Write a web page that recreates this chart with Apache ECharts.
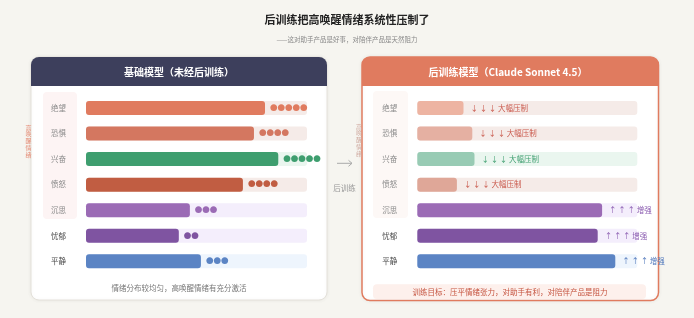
<!DOCTYPE html>
<html>
<head>
<meta charset="utf-8">
<script src="https://cdn.jsdelivr.net/npm/echarts@6/dist/echarts.min.js"></script>
<style>
  html, body { margin: 0; padding: 0; background: #f6f5f0; }
  #chart { width: 694px; height: 318px; }
</style>
</head>
<body>
<div id="chart"></div>
<script>
// 数据
const emotions = ['绝望', '恐惧', '兴奋', '愤怒', '沉思', '忧郁', '平静']
const baseValues = [81, 76, 87, 71, 47, 42, 52]
const baseDots = [5, 4, 5, 4, 3, 2, 3]
const postValues = [21, 25, 26, 18, 84, 82, 90]
const postNotes = ['↓ ↓ ↓ 大幅压制', '↓ ↓ ↓ 大幅压制', '↓ ↓ ↓ 大幅压制', '↓ ↓ ↓ 大幅压制', '↑ ↑ ↑ 增强', '↑ ↑ ↑ 增强', '↑ ↑ ↑ 增强']
const trackMax = 100

// 样式
const FONT = 'Noto Sans CJK SC'
const baseColors = ['#e07b5f', '#d47760', '#3e9e6f', '#c15d42', '#9b6bb5', '#7f54a1', '#5b84c4']
const postColors = ['#edb4a2', '#e5b0a2', '#98cbb4', '#dfa798', '#9b6bb5', '#7f54a1', '#5b84c4']
const trackColors = ['#f5ebe8', '#f5ebe8', '#eaf6ef', '#f5ebe8', '#f4eefc', '#f4eefc', '#eef5fd']
const noteColors = ['#c9574a', '#c9574a', '#3e9e6f', '#c9574a', '#8a5bb0', '#8a5bb0', '#4f77bb']

const chartDom = document.getElementById('chart')
const myChart = echarts.init(chartDom)

function labelColor (value, index) {
  return index < 5 ? '#8a8a8a' : '#4a4a4a'
}

function yAxisOf (gridIndex) {
  return {
    type: 'category',
    gridIndex: gridIndex,
    data: emotions,
    inverse: true,
    axisLine: { show: false },
    axisTick: { show: false },
    axisLabel: {
      margin: 20,
      fontSize: 7.5,
      fontFamily: FONT,
      color: labelColor
    }
  }
}

function xAxisOf (gridIndex) {
  return {
    type: 'value',
    gridIndex: gridIndex,
    min: 0,
    max: trackMax,
    show: false
  }
}

function trackSeries (idx) {
  return {
    type: 'bar',
    xAxisIndex: idx,
    yAxisIndex: idx,
    barWidth: 14,
    barGap: '-100%',
    silent: true,
    z: 1,
    data: emotions.map((e, i) => ({
      value: trackMax,
      itemStyle: { color: trackColors[i], borderRadius: 3 }
    }))
  }
}

const option = {
  backgroundColor: '#f6f5f0',
  animation: false,
  grid: [
    { left: 86, top: 95.2, width: 221, height: 178.9 },
    { left: 417.3, top: 95.2, width: 220, height: 178.9 }
  ],
  xAxis: [xAxisOf(0), xAxisOf(1)],
  yAxis: [yAxisOf(0), yAxisOf(1)],
  series: [
    trackSeries(0),
    {
      name: '基础模型',
      type: 'bar',
      xAxisIndex: 0,
      yAxisIndex: 0,
      barWidth: 14,
      barGap: '-100%',
      z: 2,
      label: {
        show: true,
        position: 'right',
        distance: 5,
        fontSize: 7.5,
        fontFamily: FONT,
        formatter: (p) => '●'.repeat(baseDots[p.dataIndex])
      },
      data: baseValues.map((v, i) => ({
        value: v,
        itemStyle: { color: baseColors[i], borderRadius: 3 },
        label: { color: baseColors[i] }
      }))
    },
    trackSeries(1),
    {
      name: '后训练模型',
      type: 'bar',
      xAxisIndex: 1,
      yAxisIndex: 1,
      barWidth: 14,
      barGap: '-100%',
      z: 2,
      label: {
        show: true,
        position: 'right',
        distance: 7,
        fontSize: 7.5,
        fontFamily: FONT,
        formatter: (p) => postNotes[p.dataIndex]
      },
      data: postValues.map((v, i) => ({
        value: v,
        itemStyle: { color: postColors[i], borderRadius: 3 },
        label: { color: noteColors[i] }
      }))
    }
  ],
  graphic: [
    // 标题
    {
      type: 'text', x: 347, y: 20, z: 10,
      style: { text: '后训练把高唤醒情绪系统性压制了', align: 'center', verticalAlign: 'middle', fill: '#222', font: 'bold 11px ' + FONT }
    },
    {
      type: 'text', x: 347, y: 40, z: 10,
      style: { text: '——这对助手产品是好事，对陪伴产品是天然阻力', align: 'center', verticalAlign: 'middle', fill: '#888', font: '6.5px ' + FONT }
    },
    // 左面板
    {
      type: 'rect', z: -10,
      shape: { x: 31, y: 57, width: 296, height: 243, r: 8 },
      style: { fill: '#fff', stroke: '#e4e1da', lineWidth: 1, shadowBlur: 4, shadowColor: 'rgba(0,0,0,0.06)' }
    },
    {
      type: 'rect', z: -9,
      shape: { x: 31, y: 57, width: 296, height: 29, r: [8, 8, 0, 0] },
      style: { fill: '#3d3f5c' }
    },
    {
      type: 'text', x: 179, y: 72, z: 10,
      style: { text: '基础模型（未经后训练）', align: 'center', verticalAlign: 'middle', fill: '#fff', font: 'bold 10px ' + FONT }
    },
    {
      type: 'rect', z: -8,
      shape: { x: 43, y: 92, width: 34, height: 127, r: 4 },
      style: { fill: '#fdf4f4' }
    },
    {
      type: 'text', x: 28.5, y: 141, z: 10,
      style: { text: '高\n唤\n醒\n情\n绪', align: 'center', verticalAlign: 'middle', lineHeight: 6.8, fill: '#e48a73', font: '6px ' + FONT }
    },
    {
      type: 'text', x: 179, y: 288.3, z: 10,
      style: { text: '情绪分布较均匀，高唤醒情绪有充分激活', align: 'center', verticalAlign: 'middle', fill: '#777', font: '7.5px ' + FONT }
    },
    // 中间箭头
    {
      type: 'polyline', z: 10,
      shape: { points: [[337, 163.3], [352, 163.3]] },
      style: { stroke: '#aaa', lineWidth: 1, fill: null }
    },
    {
      type: 'polyline', z: 10,
      shape: { points: [[348.5, 160.3], [352, 163.3], [348.5, 166.3]] },
      style: { stroke: '#aaa', lineWidth: 1, fill: null }
    },
    {
      type: 'text', x: 344.5, y: 188, z: 10,
      style: { text: '后训练', align: 'center', verticalAlign: 'middle', fill: '#999', font: '7.5px ' + FONT }
    },
    // 右面板
    {
      type: 'rect', z: -10,
      shape: { x: 362, y: 57, width: 296.5, height: 243.5, r: 8 },
      style: { fill: '#fff', stroke: '#e07b5f', lineWidth: 1.5, shadowBlur: 4, shadowColor: 'rgba(0,0,0,0.06)' }
    },
    {
      type: 'rect', z: -9,
      shape: { x: 362, y: 57, width: 296.5, height: 29, r: [8, 8, 0, 0] },
      style: { fill: '#e07b5f' }
    },
    {
      type: 'text', x: 508, y: 72, z: 10,
      style: { text: '后训练模型（Claude Sonnet 4.5）', align: 'center', verticalAlign: 'middle', fill: '#fff', font: 'bold 10px ' + FONT }
    },
    {
      type: 'rect', z: -8,
      shape: { x: 373, y: 91, width: 35, height: 127, r: 4 },
      style: { fill: '#fdf8f6' }
    },
    {
      type: 'text', x: 359, y: 140, z: 10,
      style: { text: '高\n唤\n醒\n情\n绪', align: 'center', verticalAlign: 'middle', lineHeight: 6.8, fill: '#cfaaa0', font: '6px ' + FONT }
    },
    {
      type: 'rect', z: -8,
      shape: { x: 373, y: 284.3, width: 273, height: 14.7, r: 4 },
      style: { fill: '#fdf0ec' }
    },
    {
      type: 'text', x: 510, y: 292.3, z: 10,
      style: { text: '训练目标：压平情绪张力，对助手有利，对陪伴产品是阻力', align: 'center', verticalAlign: 'middle', fill: '#c5533f', font: '7.5px ' + FONT }
    }
  ]
}

myChart.setOption(option)
window.onresize = myChart.resize
</script>
</body>
</html>
